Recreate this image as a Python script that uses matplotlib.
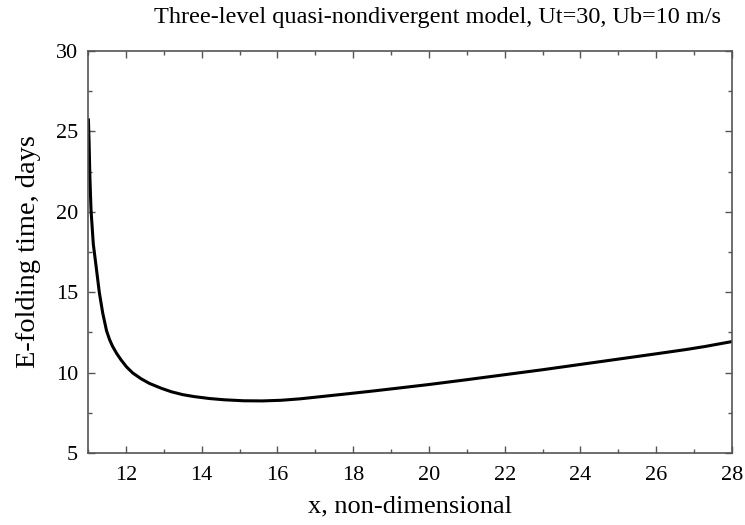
import matplotlib
matplotlib.use("Agg")
import matplotlib.pyplot as plt
from matplotlib.ticker import MultipleLocator

x_vals = [11.01, 11.03, 11.05, 11.08, 11.14, 11.22, 11.30, 11.39, 11.49, 11.57, 11.65,
          11.76, 11.87, 12.02, 12.18, 12.4, 12.62, 12.93, 13.2, 13.5, 13.8, 14.2, 14.6,
          15.1, 15.6, 16.1, 16.6, 17.2, 17.8, 18.5, 19.2, 20.0, 21.0, 22.0, 23.0,
          24.0, 25.0, 26.0, 26.8, 27.3, 27.6, 28.0]
efold_days = [25.81, 24.26, 22.18, 20.11, 18.0, 16.5, 14.97, 13.69, 12.6, 12.05, 11.63,
              11.18, 10.8, 10.35, 9.98, 9.62, 9.33, 9.03, 8.81, 8.63, 8.51, 8.39, 8.31,
              8.25, 8.24, 8.28, 8.37, 8.52, 8.67, 8.85, 9.04, 9.26, 9.56, 9.87, 10.18,
              10.51, 10.84, 11.17, 11.44, 11.63, 11.76, 11.93]

title = "Three-level quasi-nondivergent model, Ut=30, Ub=10 m/s"
xlabel = "x, non-dimensional"
ylabel = "E-folding time, days"

plt.rcParams['font.family'] = ['Liberation Serif', 'DejaVu Serif']

fig = plt.figure(figsize=(7.45, 5.25), dpi=100)
ax = fig.add_axes([0.1181, 0.1371, 0.8645, 0.7658])
ax.plot(x_vals, efold_days, color='black', lw=2.2, solid_capstyle='butt',
        solid_joinstyle='round')
ax.set_xlim(11, 28)
ax.set_ylim(5, 30)
ax.xaxis.set_major_locator(MultipleLocator(2))
ax.xaxis.set_minor_locator(MultipleLocator(1))
ax.yaxis.set_major_locator(MultipleLocator(5))
ax.yaxis.set_minor_locator(MultipleLocator(2.5))
spine_col = '#555555'
for s in ax.spines.values():
    s.set_color(spine_col)
    s.set_linewidth(1.2)
ax.tick_params(which='both', direction='in', top=True, right=True, color=spine_col,
               labelsize=16, width=1)
ax.tick_params(which='major', length=5)
ax.tick_params(axis='x', which='major', pad=9)
ax.tick_params(axis='y', which='major', pad=7)
ax.tick_params(which='minor', length=3)
fig.text(0.587, 1 - 17 / 525, title, fontsize=17.5, ha='center', va='center')
ax.set_xlabel(xlabel, fontsize=19, labelpad=8)
ax.set_ylabel(ylabel, fontsize=20.5, labelpad=11)
fig.savefig("out.png", dpi=100)
